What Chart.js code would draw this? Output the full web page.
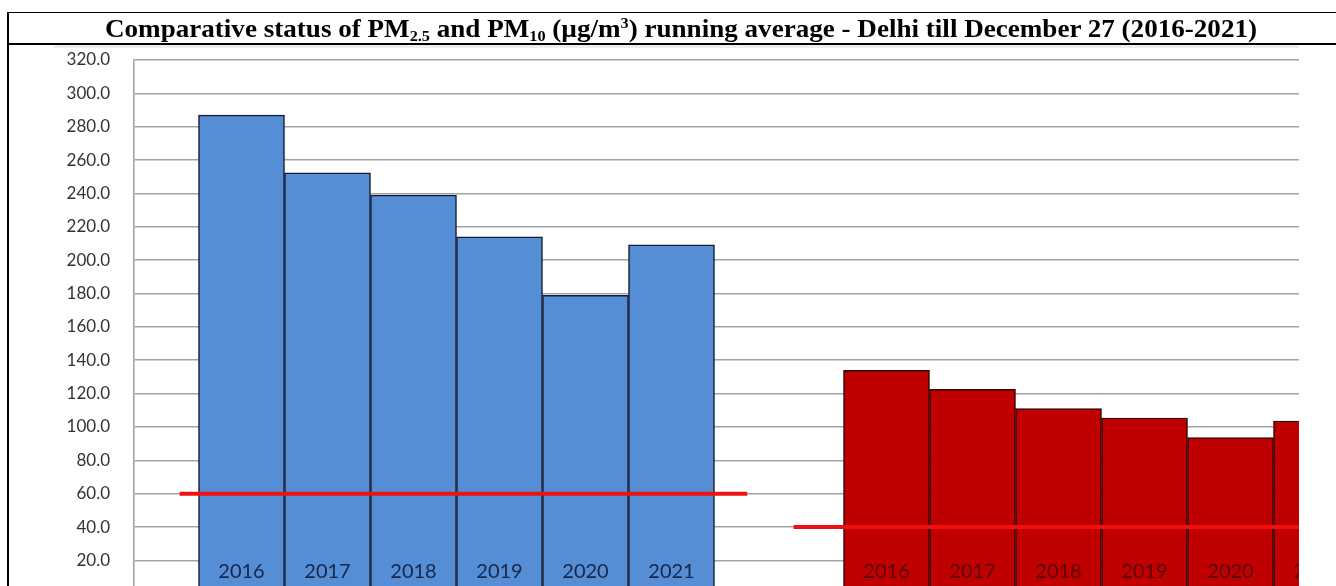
<!DOCTYPE html>
<html>
<head>
<meta charset="utf-8">
<script src="https://cdn.jsdelivr.net/npm/chart.js@4.4.1/dist/chart.umd.min.js"></script>
<style>
  html, body { margin: 0; padding: 0; background: #fff; overflow: hidden; }
  body { width: 1336px; height: 586px; position: relative; }
  #titleBox {
    position: absolute; left: 7px; top: 12px; width: 1340px; height: 30px;
    border-top: 1px solid #000; border-bottom: 2px solid #000;
  }
  #leftRule { position: absolute; left: 7px; top: 12px; width: 2px; height: 600px; background: #000; }
  #title {
    position: absolute; left: 105px; top: 16px; white-space: nowrap;
    font-family: "Liberation Serif", "Times New Roman", serif; font-weight: bold;
    font-size: 26px; line-height: 26px; color: #000; transform-origin: left top;
  }
  #title sub { font-size: 0.6em; vertical-align: -0.28em; line-height: 0; }
  #title sup { font-size: 0.6em; vertical-align: 0.6em; line-height: 0; }
  #frameTop { position: absolute; left: 54px; top: 44px; width: 1245px; height: 4px; background: #eeeeee; }
  #wrap { position: absolute; left: 0; top: 0; width: 1299px; height: 586px; overflow: hidden; }
  #wrap canvas { position: absolute; left: 0; top: 0; }
</style>
</head>
<body>
<div id="frameTop"></div>
<div id="wrap"><canvas id="pmChart" width="1424" height="628"></canvas></div>
<div id="titleBox"></div>
<div id="leftRule"></div>
<div id="title">Comparative status of PM<sub>2.5</sub> and PM<sub>10</sub> (µg/m<sup>3</sup>) running average - Delhi till December 27 (2016-2021)</div>

<script>
// values (µg/m3)
const pollutants = ["PM10", "PM2.5"];
const yearLabels = ["2016", "2017", "2018", "2019", "2020", "2021"];
const pm10Values = [287.0, 252.4, 239.0, 214.0, 179.0, 209.2];
const pm25Values = [134.0, 122.5, 111.1, 105.4, 93.7, 103.6];
const groupValues = [pm10Values, pm25Values];

// annual standard for each pollutant, and where its line runs (in bar widths)
const standardValues = [60, 40];
const standardSpans = [[0.53, 7.13], [7.67, 15]];

const yMin = 0, yMax = 320, yStep = 20;
const yearLabelLevel = 9.2;
const gapWidth = 1.5;   // gap between the two groups, in bar widths (excel 150%)

const barColors = ["#558ed5", "#c00000"];
const barBorders = ["#141c33", "#330404"];
const yearTextColors = ["#17264a", "#580404"];

// title width (105 -> 1257)
const titleEl = document.getElementById('title');
const w = titleEl.getBoundingClientRect().width;
titleEl.style.transform = `scaleX(${1152 / w})`;

// one bar per (pollutant, year); x in bar widths, groups like an excel clustered column
const groupSpan = yearLabels.length + gapWidth;
const barPoints = [], barFill = [], barLine = [], barGroup = [];
groupValues.forEach((vals, g) => {
    vals.forEach((v, i) => {
        barPoints.push({ x: g * groupSpan + gapWidth / 2 + i + 0.5, y: v });
        barFill.push(barColors[g]);
        barLine.push(barBorders[g]);
        barGroup.push(g);
    });
});

const yearLabelPlugin = {
    id: 'yearLabels',
    afterDatasetsDraw(chart) {
        const ctx = chart.ctx;
        const y = chart.scales.y.getPixelForValue(yearLabelLevel);
        ctx.save();
        ctx.font = '20px Lato';
        ctx.textAlign = 'center';
        ctx.textBaseline = 'alphabetic';
        chart.getDatasetMeta(0).data.forEach((bar, j) => {
            ctx.fillStyle = yearTextColors[barGroup[j]];
            ctx.fillText(yearLabels[j % yearLabels.length], bar.x, y);
        });
        ctx.restore();
    }
};

const lineSets = standardValues.map((v, i) => ({
    type: 'line',
    label: 'standard ' + pollutants[i],
    data: standardSpans[i].map(x => ({ x: x, y: v })),
    borderColor: '#ee1111',
    borderWidth: 4,
    borderCapStyle: 'butt',
    pointRadius: 0,
    fill: false,
    order: 1
}));

new Chart(document.getElementById('pmChart'), {
    type: 'bar',
    data: {
        datasets: [{
            type: 'bar',
            label: 'PM',
            data: barPoints,
            backgroundColor: barFill,
            borderColor: barLine,
            borderWidth: 1.5,
            categoryPercentage: 1,
            barPercentage: 1,
            order: 2
        }].concat(lineSets)
    },
    plugins: [yearLabelPlugin],
    options: {
        responsive: false,
        animation: false,
        layout: { padding: { left: 0, right: 0, top: 60, bottom: 0 } },
        plugins: { legend: { display: false }, tooltip: { enabled: false }, title: { display: false } },
        scales: {
            x: {
                type: 'linear', display: false, offset: false,
                min: 0, max: 2 * groupSpan,
                ticks: { stepSize: 5 }
            },
            y: {
                min: yMin, max: yMax,
                ticks: {
                    stepSize: yStep,
                    padding: 24,
                    color: '#333333',
                    font: { family: 'Lato', size: 17 },
                    callback: v => v.toFixed(1)
                },
                grid: { color: '#a4a4a4', lineWidth: 1.6, drawTicks: false },
                border: { color: '#a4a4a4', width: 1.6 },
                afterFit(scale) { scale.width = 134; }
            }
        }
    }
});
</script>
</body>
</html>
